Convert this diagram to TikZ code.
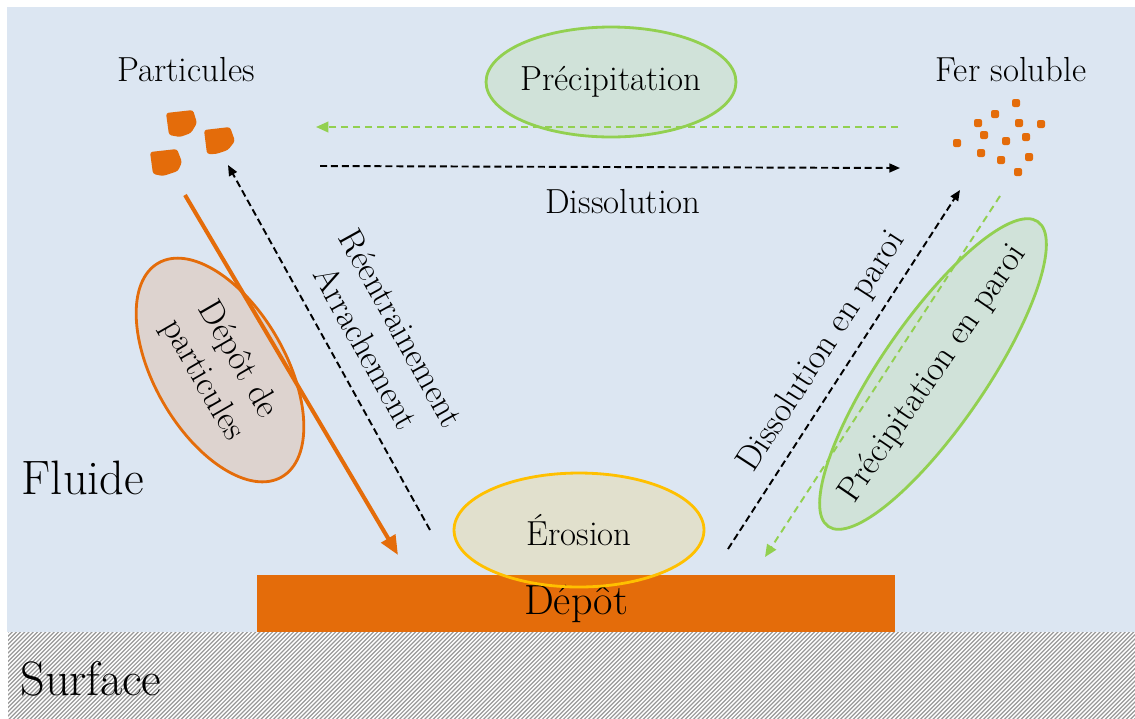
\documentclass[tikz,border=0pt]{standalone}
\usepackage{tikz}
\usetikzlibrary{arrows.meta,positioning,calc,shapes.geometric}
\definecolor{fluidblue}{RGB}{220,230,242}
\definecolor{depotorange}{RGB}{228,108,10}
\definecolor{precipgreen}{RGB}{146,208,80}
\definecolor{erosiongold}{RGB}{255,192,0}
\newcommand{\lblfont}{\fontsize{19.8}{23}\selectfont}
\newcommand{\bigfont}{\fontsize{27.5}{33}\selectfont}

\tikzset{
    procbubble/.style={
        ellipse,
        draw=#1,
        line width=1.6pt,
        fill=#1,
        fill opacity=0.15,
        text opacity=1,
        inner sep=0pt,
        align=center,
        font=\lblfont
    },
    lbl/.style={font=\lblfont, align=center},
    blackflow/.style={
        black, line width=1.1pt, dash pattern=on 4pt off 2.2pt,
        -{Triangle[length=6pt,width=5pt]}
    },
    greenflow/.style={
        precipgreen, line width=1.1pt, dash pattern=on 4pt off 2.8pt,
        -{Triangle[length=7pt,width=6pt]}
    },
    depflow/.style={
        depotorange, line width=2.3pt,
        -{Triangle[length=11pt,width=9pt]}
    }
}

\begin{document}
\begin{tikzpicture}[x=0.02cm, y=-0.02cm]
    \useasboundingbox (0,0) rectangle (1135,718);

    % fluid and wall
    \fill[fluidblue] (7,7) rectangle (1135,632);
    \begin{scope}
        \clip (8,632) rectangle (1135,718);
        \fill[white] (8,632) rectangle (1135,718);
        \foreach \k in {0,...,292}
            \draw[gray!80, line width=0.7pt] ({-80+4.2*\k},720) -- ++(90,-90);
    \end{scope}

    \node[
        fill=depotorange,
        minimum width=12.76cm,
        minimum height=1.14cm,
        inner sep=0pt,
        font=\fontsize{24}{29}\selectfont
    ] (depot) at (576,603.5) {Dépôt};

    \node[font=\bigfont] (fluide) at (83,478) {Fluide};
    \node[font=\bigfont] (surface) at (91,679) {Surface};

    % species
    \node[lbl] (particules) at (186,70) {Particules};
    \node[lbl] (fersoluble) at (1011,70) {Fer soluble};

    \fill[depotorange, rounded corners=1.5pt]
        (166,113) -- (193,110) -- (197,123) -- (191,133) -- (180,137) -- (169,135) -- cycle;
    \fill[depotorange, rounded corners=1.5pt]
        (204,130) -- (230,127) -- (235,141) -- (228,150) -- (216,154) -- (207,154) -- cycle;
    \fill[depotorange, rounded corners=1.5pt]
        (150,152) -- (177,149) -- (182,162) -- (178,171) -- (163,176) -- (153,174) -- cycle;

    \foreach \px/\py in {1016/103, 995/114, 978/123, 1019/123, 1041/124, 984/135,
                         1026/137, 1006/141, 957/143, 981/153, 1029/157, 1001/160, 1018/172}
        \fill[depotorange, rounded corners=1.2pt] (\px-4,\py-4) rectangle (\px+4,\py+4);

    % processes
    \node[procbubble=precipgreen, minimum width=5cm, minimum height=2.2cm]
        (precip) at (611,82) {\makebox[0pt]{Précipitation}};
    \node[procbubble=erosiongold, minimum width=5cm, minimum height=2.28cm]
        (erosion) at (579,530) {Érosion};
    \node[procbubble=depotorange, rotate=-60, minimum width=4.94cm, minimum height=2.62cm]
        (deppart) at (220,370) {Dépôt de\\particules};
    \node[procbubble=precipgreen, rotate=55.5, minimum width=7.4cm, minimum height=2.1cm]
        (precparoi) at (933,374) {\makebox[0pt]{Précipitation en paroi}};

    \node[lbl] (dissol) at (623,202) {Dissolution};
    \node[lbl, rotate=57] (dissparoi) at (822,352) {Dissolution en paroi};
    \node[lbl, rotate=-61] (reentr) at (384,338) {Réentrainement\\Arrachement};

    % flux ends
    \coordinate (dep-a) at (185,195);
    \coordinate (dep-b) at (398,555);
    \coordinate (arr-a) at (430,530);
    \coordinate (arr-b) at (228,165);
    \coordinate (pre-a) at (898,127);
    \coordinate (pre-b) at (316,127);
    \coordinate (dis-a) at (320,166);
    \coordinate (dis-b) at (900,168);
    \coordinate (dip-a) at (728,549);
    \coordinate (dip-b) at (960,190);
    \coordinate (prp-a) at (1000,196);
    \coordinate (prp-b) at (765,557);

    \draw[depflow] (dep-a) -- (dep-b);
    \draw[blackflow] (arr-a) -- (arr-b);
    \draw[greenflow] (pre-a) -- (pre-b);
    \draw[blackflow] (dis-a) -- (dis-b);
    \draw[blackflow] (dip-a) -- (dip-b);
    \draw[greenflow] (prp-a) -- (prp-b);
\end{tikzpicture}
\end{document}
